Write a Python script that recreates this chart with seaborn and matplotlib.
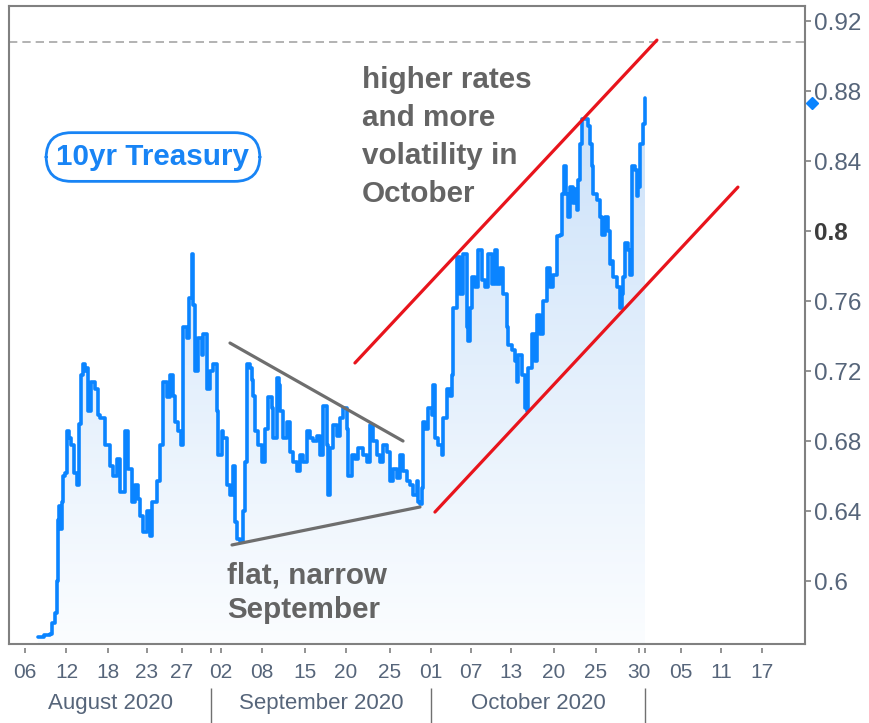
import numpy as np
import matplotlib
matplotlib.use('Agg')
import matplotlib.pyplot as plt
from matplotlib.colors import LinearSegmentedColormap
import seaborn as sns

# x = trading sessions counted from Aug 6 2020, y = 10yr Treasury yield (%)
session = [
    1.29, 1.88, 2.48, 2.67, 2.97, 3.17, 3.27, 3.37, 3.47, 3.66, 3.76, 3.96, 4.16, 4.36,
    4.55, 4.85, 5.15, 5.35, 5.54, 5.74, 5.94, 6.14, 6.24, 6.53, 6.93, 7.23, 7.43, 7.92,
    8.42, 8.71, 9.11, 9.41, 9.90, 10.20, 10.59, 10.89, 11.19, 11.39, 11.68, 12.08, 12.38,
    12.57, 13.07, 13.37, 13.66, 14.06, 14.36, 14.65, 14.85, 15.15, 15.45, 15.64, 16.04,
    16.24, 16.53, 16.63, 16.83, 17.13, 17.52, 17.62, 18.02, 18.32, 18.61, 19.01, 19.11,
    19.50, 19.60, 20.00, 20.30, 20.59, 20.79, 20.99, 21.29, 21.58, 21.78, 21.98, 22.28,
    22.48, 22.57, 22.77, 23.07, 23.47, 23.76, 24.06, 24.46, 24.55, 24.95, 25.15, 25.25,
    25.54, 25.94, 26.24, 26.53, 26.93, 27.23, 27.52, 27.92, 28.22, 28.51, 28.91, 29.21,
    29.50, 29.90, 30.00, 30.20, 30.50, 30.89, 31.19, 31.49, 31.88, 31.98, 32.38, 32.67,
    32.97, 33.47, 33.86, 34.16, 34.46, 34.85, 35.15, 35.45, 35.84, 36.14, 36.44, 36.83,
    37.13, 37.43, 37.82, 38.12, 38.42, 38.81, 38.91, 39.11, 39.31, 39.41, 39.60, 39.90,
    40.30, 40.40, 40.59, 40.89, 41.29, 41.39, 41.78, 42.08, 42.28, 42.38, 42.77, 43.07,
    43.37, 43.76, 43.86, 44.06, 44.26, 44.55, 44.85, 45.25, 45.54, 45.84, 46.24, 46.53,
    46.73, 47.03, 47.33, 47.72, 47.82, 48.22, 48.51, 48.71, 48.81, 49.21, 49.50, 49.70,
    49.80, 50.20, 50.50, 50.69, 50.99, 51.29, 51.68, 51.98, 52.28, 52.67, 52.97, 53.17,
    53.37, 53.56, 53.76, 53.96, 54.26, 54.46, 54.65, 54.75, 54.95, 55.15, 55.45, 55.74,
    55.94, 56.14, 56.24, 56.63, 56.93, 57.13, 57.43, 57.72, 57.92, 58.12, 58.22, 58.61,
    58.91, 59.11, 59.21, 59.41, 59.70, 59.90, 60.10, 60.40, 60.59, 60.69, 60.89, 61.19,
    61.39,
]
yield_10y = [
    0.568, 0.569, 0.570, 0.576, 0.582, 0.600, 0.635, 0.643, 0.630, 0.645, 0.660, 0.662, 0.686, 0.682,
    0.678, 0.662, 0.655, 0.690, 0.718, 0.724, 0.720, 0.722, 0.697, 0.714, 0.710, 0.695, 0.693, 0.678,
    0.666, 0.660, 0.670, 0.651, 0.686, 0.664, 0.645, 0.655, 0.647, 0.637, 0.628, 0.640, 0.626,
    0.645, 0.657, 0.678, 0.714, 0.705, 0.718, 0.706, 0.691, 0.686, 0.678, 0.745, 0.739,
    0.762, 0.787, 0.758, 0.720, 0.739, 0.729, 0.741, 0.710, 0.720, 0.724, 0.697, 0.672,
    0.686, 0.682, 0.655, 0.649, 0.666, 0.634, 0.624, 0.623, 0.640, 0.668, 0.724, 0.722,
    0.715, 0.706, 0.686, 0.678, 0.668, 0.687, 0.705, 0.699, 0.682, 0.716, 0.712, 0.697,
    0.682, 0.691, 0.674, 0.668, 0.663, 0.672, 0.668, 0.686, 0.682, 0.680, 0.683, 0.672,
    0.700, 0.678, 0.649, 0.676, 0.689, 0.683, 0.693, 0.699, 0.687, 0.660, 0.672, 0.670,
    0.676, 0.672, 0.668, 0.689, 0.680, 0.672, 0.668, 0.678, 0.674, 0.657, 0.664, 0.659,
    0.672, 0.663, 0.657, 0.655, 0.649, 0.657, 0.645, 0.644, 0.653, 0.691, 0.687, 0.699,
    0.695, 0.712, 0.682, 0.678, 0.672, 0.693, 0.710, 0.706, 0.718, 0.756, 0.785, 0.764,
    0.787, 0.745, 0.737, 0.756, 0.774, 0.768, 0.789, 0.772, 0.768, 0.787, 0.770, 0.789,
    0.770, 0.779, 0.764, 0.745, 0.735, 0.732, 0.726, 0.714, 0.729, 0.718, 0.699, 0.697,
    0.722, 0.741, 0.726, 0.752, 0.741, 0.760, 0.779, 0.768, 0.775, 0.797, 0.798, 0.821,
    0.837, 0.821, 0.808, 0.825, 0.816, 0.824, 0.812, 0.829, 0.850, 0.864, 0.864, 0.860,
    0.850, 0.837, 0.821, 0.818, 0.808, 0.798, 0.808, 0.800, 0.781, 0.783, 0.774, 0.768,
    0.756, 0.764, 0.774, 0.793, 0.789, 0.775, 0.837, 0.835, 0.820, 0.825, 0.850, 0.861,
    0.876,
]
last_close = 0.873

# axis ticks (day of month) and month bands
tick_pos = [0.0, 4.11, 8.22, 12.08, 15.54, 19.41, 23.47, 27.72, 31.78, 36.14,
            40.20, 44.16, 48.12, 52.38, 56.53, 60.79, 64.95, 68.91, 72.97]
tick_lbl = ['06', '12', '18', '23', '27', '02', '08', '15', '20', '25',
            '01', '07', '13', '20', '25', '30', '05', '11', '17']
month_edges = [18.42, 40.20, 61.39]
month_names = ['August 2020', 'September 2020', 'October 2020']
y_ticks = [0.6, 0.64, 0.68, 0.72, 0.76, 0.8, 0.84, 0.88, 0.92]
y_lbl = ['0.6', '0.64', '0.68', '0.72', '0.76', '0.8', '0.84', '0.88', '0.92']

# annotation lines
prior_high = 0.908
upper_ch_x, upper_ch_y = [32.67, 62.57], [0.7246, 0.9091]
lower_ch_x, lower_ch_y = [40.59, 70.59], [0.6394, 0.8251]
tri_top_x, tri_top_y = [20.30, 37.43], [0.736, 0.680]
tri_bot_x, tri_bot_y = [20.50, 39.11], [0.6206, 0.6423]

xlo, xhi = -1.58, 77.23
ylo, yhi = 0.564, 0.9286

sns.set_style('white')
plt.rcParams['font.family'] = ['Liberation Sans', 'DejaVu Sans']

fig = plt.figure(figsize=(8.69, 7.23), dpi=100)
ax = fig.add_axes([9 / 869, 1 - 644 / 723, 796 / 869, 638 / 723])

blue = '#0a84ff'
frame = '#808080'
lblc = '#56657a'

# gradient area under the line
poly = ax.fill_between(session, yield_10y, ylo, step='post', color='none', lw=0)
cmap = LinearSegmentedColormap.from_list('fade', ['#fbfdff', '#c4ddf8'])
grad = np.linspace(0, 1, 256).reshape(-1, 1)
img = ax.imshow(grad, extent=[xlo, xhi, ylo, yhi], origin='lower', aspect='auto',
                cmap=cmap, zorder=1)
img.set_clip_path(poly.get_paths()[0], transform=ax.transData)

sns.lineplot(x=session, y=yield_10y, ax=ax, color=blue, lw=2.6,
             drawstyle='steps-post', zorder=3)

ax.axhline(prior_high, color='#a6a6a6', lw=1.2, dashes=(5, 3), zorder=2)
ax.plot(upper_ch_x, upper_ch_y, color='#e8141c', lw=2.3, zorder=4, solid_capstyle='round')
ax.plot(lower_ch_x, lower_ch_y, color='#e8141c', lw=2.3, zorder=4, solid_capstyle='round')
ax.plot(tri_top_x, tri_top_y, color='#6e6e6e', lw=2.3, zorder=4, solid_capstyle='round')
ax.plot(tri_bot_x, tri_bot_y, color='#6e6e6e', lw=2.3, zorder=4, solid_capstyle='round')

ax.set_xlim(xlo, xhi)
ax.set_ylim(ylo, yhi)

# last value marker on the right axis
ax.plot([1.0088], [last_close], marker='D', ms=6, color=blue,
        transform=ax.get_yaxis_transform(), clip_on=False, zorder=6)

# texts (va='baseline' aligns the last line)
ax.text(0.4435, 0.6928, 'higher rates\nand more\nvolatility in\nOctober', transform=ax.transAxes,
        fontsize=21.3, fontweight='bold', color='#646464', va='baseline', ha='left',
        linespacing=1.455, zorder=5)
ax.text(0.2739, 0.0408, 'flat, narrow\nSeptember', transform=ax.transAxes,
        fontsize=21.3, fontweight='bold', color='#646464', va='baseline', ha='left',
        linespacing=1.29, zorder=5)
ax.text(0.1809, 0.7633, '10yr Treasury', transform=ax.transAxes, fontsize=21.3,
        fontweight='bold', color='#1884f5', ha='center', va='center', zorder=5,
        bbox=dict(boxstyle='round,pad=0.35,rounding_size=0.85', fc='white',
                  ec='#1884f5', lw=2))

# axes styling
for sp in ax.spines.values():
    sp.set_color(frame)
    sp.set_linewidth(1.5)
    sp.set_visible(True)

ax.set_xticks(tick_pos, tick_lbl)
ax.tick_params(axis='x', length=0, labelsize=15, labelcolor=lblc, pad=14)
xt = ax.get_xaxis_transform()
ax.vlines(tick_pos + [month_edges[0], month_edges[2]], -0.0063, -0.0141, transform=xt,
          clip_on=False, color=frame, lw=1.2)
ax.vlines(month_edges, -0.069, -0.13, transform=xt, clip_on=False, color='#707070', lw=1)
band = [xlo] + month_edges
for i, name in enumerate(month_names):
    ax.text((band[i] + band[i + 1]) / 2, -0.094, name, transform=xt, ha='center',
            va='center', fontsize=16, color=lblc)

ax.yaxis.tick_right()
ax.set_yticks(y_ticks, y_lbl)
ax.tick_params(axis='y', length=4.3, width=1.2, color=frame, labelsize=17.5,
               labelcolor=lblc, pad=2)
for lab in ax.get_yticklabels():
    if lab.get_text() == '0.8':
        lab.set_fontweight('bold')
        lab.set_color('#3c3c3c')

ax.set_xlabel('')
ax.set_ylabel('')
ax.grid(False)

fig.savefig('out.png', dpi=100)
